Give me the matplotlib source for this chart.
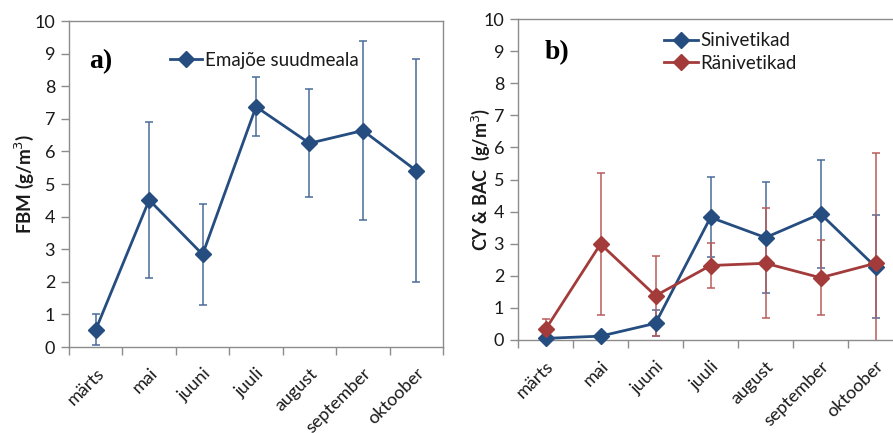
import matplotlib
matplotlib.use("Agg")
import matplotlib.pyplot as plt
import numpy as np

# Months on the x axis
months = ["märts", "mai", "juuni", "juuli", "august", "september", "oktoober"]

# a) phytoplankton biomass at the Emajõgi mouth
fbm_mean = [0.53, 4.51, 2.84, 7.37, 6.25, 6.64, 5.41]
fbm_err = [0.47, 2.40, 1.56, 0.90, 1.66, 2.74, 3.41]

# b) cyanobacteria and diatoms
cy_mean = [0.05, 0.12, 0.52, 3.82, 3.19, 3.93, 2.28]
cy_err = [0.04, 0.05, 0.40, 1.25, 1.72, 1.69, 1.60]
bac_mean = [0.33, 2.99, 1.38, 2.32, 2.39, 1.94, 2.39]
bac_err = [0.33, 2.21, 1.25, 0.71, 1.72, 1.17, 3.45]

yticks = list(range(0, 11))

BLUE = "#264d80"
BLUE_ERR = "#4a6c9b"
RED = "#a33b3a"
RED_ERR = "#b95c5a"
SPINE = "#8c8c8c"
TXT = "#1a1a1a"

plt.rcParams["font.family"] = ["Lato", "DejaVu Sans"]

fig = plt.figure(figsize=(8.93, 4.33), dpi=100)
ax1 = fig.add_axes([0.0773, 0.1986, 0.4188, 0.7529])
ax2 = fig.add_axes([0.5801, 0.2148, 0.4311, 0.7413])


def style(ax):
    n = len(months)
    x = np.arange(n)
    ax.set_xlim(-0.5, n - 0.5)
    ax.set_ylim(0, 10)
    ax.set_yticks(yticks)
    ax.set_yticklabels([str(t) for t in yticks], fontsize=13, color=TXT)
    ax.set_xticks(np.arange(n + 1) - 0.5)
    ax.set_xticklabels([])
    ax.set_xticks(x, minor=True)
    ax.set_xticklabels(months, minor=True, rotation=45, ha="right",
                       rotation_mode="anchor", fontsize=13, color=TXT)
    ax.tick_params(axis="x", which="minor", length=0, pad=13)
    ax.tick_params(axis="x", which="major", length=6, color=SPINE, width=1)
    ax.tick_params(axis="y", length=6, color=SPINE, width=1, pad=4)
    for s in ax.spines.values():
        s.set_color(SPINE)
        s.set_linewidth(1)
    return x


def series(ax, x, mean, err, color, ecolor, label):
    ax.errorbar(x, mean, yerr=err, fmt="none", ecolor=ecolor, elinewidth=1.1,
                capsize=3, capthick=1.1, zorder=2, clip_on=True)
    ax.plot(x, mean, color=color, lw=2.0, marker="D", markersize=8.5,
            label=label, zorder=3, clip_on=False)


x = style(ax1)
series(ax1, x, fbm_mean, fbm_err, BLUE, BLUE_ERR, "Emajõe suudmeala")
ax1.set_ylabel("FBM (g/m$^3$)", fontsize=13.5, fontweight="bold", color=TXT, labelpad=-1)
ax1.text(0.055, 0.875, "a)", transform=ax1.transAxes, fontsize=20,
         fontweight="bold", family="Liberation Serif", va="center", ha="left")
ax1.legend(loc="upper left", bbox_to_anchor=(0.235, 0.945), frameon=False,
           fontsize=13.5, handlelength=1.7, handletextpad=0.15, borderpad=0.2,
           labelcolor=TXT)

x = style(ax2)
series(ax2, x, cy_mean, cy_err, BLUE, BLUE_ERR, "Sinivetikad")
series(ax2, x, bac_mean, bac_err, RED, RED_ERR, "Ränivetikad")
ax2.set_ylabel("CY & BAC  (g/m$^3$)", fontsize=13, fontweight="bold", color=TXT, labelpad=-6)
ax2.text(0.07, 0.895, "b)", transform=ax2.transAxes, fontsize=20,
         fontweight="bold", family="Liberation Serif", va="center", ha="left")
ax2.legend(loc="upper left", bbox_to_anchor=(0.345, 1.0), frameon=False,
           fontsize=13.5, handlelength=1.8, handletextpad=0.15, borderpad=0.2,
           labelspacing=0.3, labelcolor=TXT)

fig.savefig("out.png", dpi=100)
